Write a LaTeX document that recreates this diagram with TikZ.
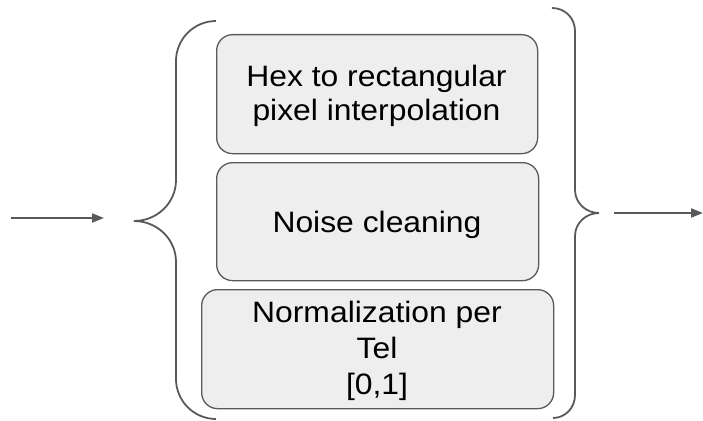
\documentclass[tikz,border=0pt]{standalone}
\usepackage{fontspec}
\setmainfont[FakeStretch=1.08]{Liberation Sans}
\usetikzlibrary{arrows.meta}
\definecolor{linegray}{HTML}{595959}
\definecolor{boxfill}{HTML}{EEEEEE}
\begin{document}
\begin{tikzpicture}[x=1pt,y=-1pt,
  stage/.style={draw=linegray, line width=1.3pt, fill=boxfill, rounded corners=16pt,
                inner sep=0pt, anchor=north west},
  label/.style={font=\fontsize{29.5}{36}\selectfont, align=center, text=black, inner sep=0pt},
  brace/.style={draw=linegray, line width=1.8pt},
  flow/.style={draw=linegray, line width=1.8pt, -{Triangle[length=12pt,width=9pt]}}]
\useasboundingbox (0,0) rectangle (703,420);

% processing stages
\node[stage, minimum width=321pt, minimum height=119pt] (interp) at (216,34) {};
\node[stage, minimum width=322pt, minimum height=118pt] (clean) at (216,162) {};
\node[stage, minimum width=352pt, minimum height=119pt] (norm) at (201,289) {};

\node[label, font=\fontsize{29.5}{34}\selectfont] (interptxt) at (376.5,96) {Hex to rectangular\\pixel interpolation};
\node[label] (cleantxt) at (377,224.5) {Noise cleaning};
\node[label] (normtxt) at (377,351) {Normalization per\\Tel\\{}[0,1]};

% grouping braces
\coordinate (openTip) at (134,221);
\coordinate (closeTip) at (599,213);
\draw[brace] (216,21) .. controls (194,21) and (176,39) .. (176,61)
  -- (176,180) .. controls (176,203) and (157,221) .. (openTip)
  .. controls (157,221) and (176,239) .. (176,262)
  -- (176,379) .. controls (176,401) and (194,419) .. (216,419);
\draw[brace] (552,8) .. controls (565,8) and (575,18) .. (575,31)
  -- (575,190) .. controls (575,203) and (586,213) .. (closeTip)
  .. controls (586,213) and (575,223) .. (575,236)
  -- (575,395) .. controls (575,408) and (565,418) .. (553,418);

% input and output arrows
\coordinate (inStart) at (11,218);
\coordinate (inEnd) at (104,218);
\coordinate (outStart) at (614,213);
\coordinate (outEnd) at (703,213);
\draw[flow] (inStart) -- (inEnd);
\draw[flow] (outStart) -- (outEnd);
\end{tikzpicture}
\end{document}
